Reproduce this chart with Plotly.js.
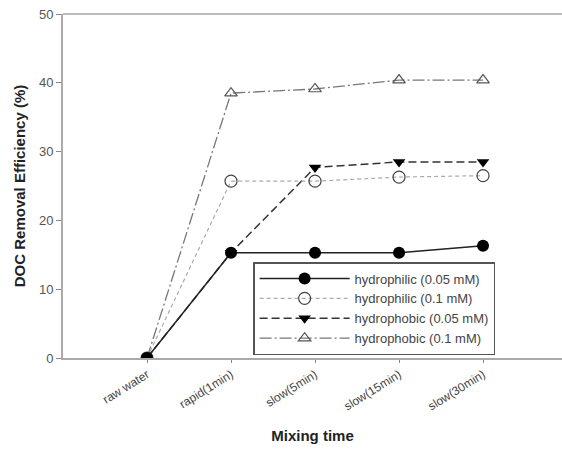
<!DOCTYPE html>
<html><head><meta charset="utf-8">
<script src="https://cdn.plot.ly/plotly-3.0.1.min.js"></script>
<style>body{margin:0;background:#fff}#c{width:562px;height:451px}</style>
</head><body><div id="c"></div>
<script>
const categories = ["raw water","rapid(1min)","slow(5min)","slow(15min)","slow(30min)"];
const hydrophilic005 = [0, 15.3, 15.3, 15.3, 16.3];
const hydrophilic01 = [0, 25.7, 25.7, 26.3, 26.5];
const hydrophobic005 = [0, 15.3, 27.7, 28.5, 28.5];
const hydrophobic01 = [0, 38.5, 39.1, 40.4, 40.4];
const seriesNames = ["hydrophilic (0.05 mM)","hydrophilic (0.1 mM)","hydrophobic (0.05 mM)","hydrophobic (0.1 mM)"];
const yTicks = [0,10,20,30,40,50];

const xi = categories.map((_,i)=>i);
const traces = [
 {x:xi,y:hydrophobic01,name:seriesNames[3],mode:'lines+markers',
  line:{color:'#777',width:1.3,dash:'12px,3px,2px,3px'},
  marker:{symbol:'triangle-up-open',size:11,color:'#555',line:{width:1.2}}},
 {x:xi,y:hydrophobic005,name:seriesNames[2],mode:'lines+markers',
  line:{color:'#333',width:1.5,dash:'8px,4px'},
  marker:{symbol:'triangle-down',size:11,color:'#000'}},
 {x:xi,y:hydrophilic01,name:seriesNames[1],mode:'lines+markers',
  line:{color:'#aaa',width:1.2,dash:'4px,3px'},
  marker:{symbol:'circle-open',size:12,color:'#444',line:{width:1.2}}},
 {x:xi,y:hydrophilic005,name:seriesNames[0],mode:'lines+markers',
  line:{color:'#222',width:1.5},
  marker:{symbol:'circle',size:12,color:'#000'}}
];
const layout = {
  width:562,height:451,
  margin:{l:63,r:0,t:14,b:93},
  paper_bgcolor:'#fff',plot_bgcolor:'#fff',
  font:{family:'Liberation Sans, Arial, sans-serif',color:'#444',size:11},
  showlegend:true,
  legend:{x:0.381,y:0.279,xanchor:'left',yanchor:'top',traceorder:'reversed',
    bordercolor:'#555',borderwidth:1.5,bgcolor:'#fff',itemwidth:90,
    font:{size:13,color:'#444'},tracegroupgap:0},
  xaxis:{range:[-1,4.94],tickmode:'array',tickvals:xi,ticktext:categories,
    tickangle:-32,tickfont:{size:12,color:'#444'},ticks:'outside',ticklen:3,tickcolor:'#888',
    showgrid:false,zeroline:false,showline:true,linecolor:'#aaa',linewidth:2,mirror:false,
    title:{text:'Mixing time',font:{size:15,color:'#222',family:'Liberation Sans, Arial, sans-serif',weight:'bold'},standoff:18}},
  yaxis:{range:[0,50],tickvals:yTicks,ticks:'outside',ticklen:5,tickcolor:'#888',
    tickfont:{size:13,color:'#555'},showgrid:false,zeroline:false,showline:true,linecolor:'#aaa',linewidth:2,
    title:{text:'DOC Removal Efficiency (%)',font:{size:15,color:'#222',weight:'bold'},standoff:10}},
  shapes:[{type:'line',xref:'paper',yref:'paper',x0:0,x1:1,y0:1,y1:1,line:{color:'#bbb',width:2}}]
};
Plotly.newPlot('c',traces,layout,{displayModeBar:false,staticPlot:true});
</script></body></html>
